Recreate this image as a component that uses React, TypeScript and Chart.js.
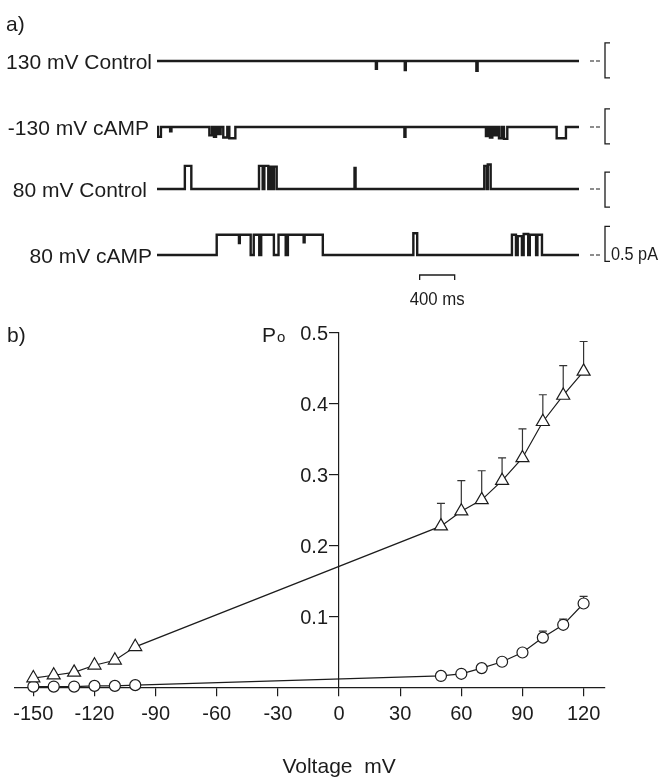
import React, { useEffect, useRef } from "react";
import { Chart, registerables } from "chart.js";

Chart.register(...registerables);

// ---------------- Panel a: single-channel traces ----------------
// each event: [start ms, end ms, current pA relative to closed level]
const traceLabels = ["130 mV Control", "-130 mV cAMP", "80 mV Control", "80 mV cAMP"];
const traceDurationMs = 4820;

const trace1Events = [
  [2500, 2512, -0.11],
  [2830, 2842, -0.13],
  [3648, 3662, -0.14],
];
const trace2Events = [
  [10, 45, -0.14],
  [150, 165, -0.06],
  [598, 628, -0.12],
  [651, 674, -0.14],
  [700, 727, -0.1],
  [757, 803, -0.15],
  [826, 895, -0.16],
  [2826, 2838, -0.14],
  [3757, 3784, -0.13],
  [3803, 3830, -0.15],
  [3852, 3879, -0.12],
  [3906, 3936, -0.16],
  [3963, 4001, -0.17],
  [4565, 4671, -0.16],
];
const trace3Events = [
  [318, 392, 0.33],
  [1165, 1207, 0.33],
  [1226, 1271, 0.33],
  [1291, 1317, 0.32],
  [1336, 1367, 0.32],
  [2256, 2268, 0.3],
  [3738, 3768, 0.33],
  [3778, 3811, 0.35],
];
const trace4Events = [
  [682, 936, 0.29],
  [936, 946, 0.17],
  [946, 1070, 0.29],
  [1105, 1168, 0.29],
  [1190, 1335, 0.29],
  [1388, 1470, 0.29],
  [1495, 1675, 0.29],
  [1675, 1686, 0.18],
  [1686, 1894, 0.29],
  [2928, 2972, 0.31],
  [4054, 4100, 0.29],
  [4120, 4168, 0.27],
  [4188, 4240, 0.3],
  [4258, 4330, 0.29],
  [4345, 4397, 0.29],
];
const allTraceEvents = [trace1Events, trace2Events, trace3Events, trace4Events];

const scaleBarStartMs = 3000;
const scaleBarMs = 400;
const scaleBarLabel = "400 ms";
const currentBarPA = 0.5;
const currentBarLabel = "0.5 pA";
const bracketLowPA = [-0.24, -0.24, -0.26, -0.09];

// ---------------- Panel b: open probability vs voltage ----------------
const voltages = [-150, -140, -130, -120, -110, -100, 50, 60, 70, 80, 90, 100, 110, 120];
const poCAMP = [0.014, 0.018, 0.022, 0.032, 0.039, 0.058, 0.228, 0.249, 0.265, 0.292, 0.324, 0.375, 0.412, 0.446];
const poCAMPErr = [0, 0, 0, 0, 0, 0, 0.032, 0.043, 0.041, 0.032, 0.041, 0.038, 0.042, 0.042];
const poControl = [0.002, 0.002, 0.002, 0.003, 0.003, 0.004, 0.017, 0.02, 0.028, 0.037, 0.05, 0.071, 0.089, 0.119];
const poControlErr = [0, 0, 0, 0, 0, 0, 0, 0, 0, 0, 0.002, 0.009, 0.008, 0.01];
const xTickValues = [-150, -120, -90, -60, -30, 0, 30, 60, 90, 120];
const yTickValues = [0.1, 0.2, 0.3, 0.4, 0.5];
const xAxisTitle = "Voltage  mV";

// ---------------- style / layout ----------------
const FONT = "'Liberation Sans', Arial, Helvetica, sans-serif";
const INK = "#1c1c1c";

const A_W = 660;
const A_H = 310;
const A_AREA = { left: 157, right: 579, top: 20, bottom: 300 };
const PX_PER_PA = 70;
const traceBaselinePx = [61, 127, 189, 255];
const traceLabelRight = [152, 149, 147, 152];

const B_W = 660;
const B_H = 470;
const Y_TICK_LEN = 9;
const Y_LABEL_GAP = 2;

function buildTrace(events: number[][], duration: number) {
  const pts: { x: number; y: number }[] = [{ x: 0, y: 0 }];
  events.forEach(([s, e, a], i) => {
    pts.push({ x: s, y: a });
    const next = events[i + 1];
    if (!next || next[0] > e) pts.push({ x: e, y: 0 });
  });
  pts.push({ x: duration, y: 0 });
  return pts;
}

const panelAPlugin = {
  id: "panelADecor",
  afterDraw(chart: any) {
    const ctx = chart.ctx as CanvasRenderingContext2D;
    const xs = chart.scales.x;
    ctx.save();
    ctx.fillStyle = INK;
    ctx.strokeStyle = INK;
    ctx.font = `21px ${FONT}`;
    ctx.textBaseline = "alphabetic";
    ctx.textAlign = "left";
    ctx.fillText("a)", 6, 31);

    traceLabels.forEach((lab, i) => {
      const ys = chart.scales["y" + (i + 1)];
      const y0 = ys.getPixelForValue(0);
      ctx.font = `21px ${FONT}`;
      ctx.textAlign = "right";
      ctx.fillText(lab, traceLabelRight[i], y0 + 7.5);
      // closed-level marker "--"
      ctx.lineWidth = 1.2;
      ctx.beginPath();
      ctx.moveTo(590, y0);
      ctx.lineTo(594, y0);
      ctx.moveTo(596, y0);
      ctx.lineTo(600, y0);
      ctx.stroke();
      // current bracket
      const yb = ys.getPixelForValue(bracketLowPA[i]);
      const yt = ys.getPixelForValue(bracketLowPA[i] + currentBarPA);
      ctx.lineWidth = 1.3;
      ctx.beginPath();
      ctx.moveTo(610, yt);
      ctx.lineTo(605, yt);
      ctx.lineTo(605, yb);
      ctx.lineTo(610, yb);
      ctx.stroke();
      if (i === 3) {
        ctx.font = `18px ${FONT}`;
        ctx.textAlign = "left";
        ctx.fillText(currentBarLabel, 611, yb - 1, 47);
      }
    });

    // time scale bar
    const x1 = xs.getPixelForValue(scaleBarStartMs);
    const x2 = xs.getPixelForValue(scaleBarStartMs + scaleBarMs);
    ctx.lineWidth = 1.3;
    ctx.beginPath();
    ctx.moveTo(x1, 280);
    ctx.lineTo(x1, 275);
    ctx.lineTo(x2, 275);
    ctx.lineTo(x2, 280);
    ctx.stroke();
    ctx.font = `18px ${FONT}`;
    ctx.textAlign = "center";
    ctx.fillText(scaleBarLabel, (x1 + x2) / 2, 305, 55);
    ctx.restore();
  },
};

const panelBPlugin = {
  id: "panelBDecor",
  beforeDatasetsDraw(chart: any) {
    const ctx = chart.ctx as CanvasRenderingContext2D;
    const xs = chart.scales.x;
    const ys = chart.scales.y;
    ctx.save();
    ctx.strokeStyle = "#333";
    ctx.lineWidth = 1.2;
    const draw = (vals: number[], errs: number[]) => {
      vals.forEach((v, i) => {
        if (!errs[i]) return;
        const x = xs.getPixelForValue(voltages[i]);
        const y = ys.getPixelForValue(v);
        const yc = ys.getPixelForValue(v + errs[i]);
        ctx.beginPath();
        ctx.moveTo(x, y);
        ctx.lineTo(x, yc);
        ctx.moveTo(x - 4, yc);
        ctx.lineTo(x + 4, yc);
        ctx.stroke();
      });
    };
    draw(poCAMP, poCAMPErr);
    draw(poControl, poControlErr);
    ctx.restore();
  },
  afterDraw(chart: any) {
    const ctx = chart.ctx as CanvasRenderingContext2D;
    const xs = chart.scales.x;
    const ys = chart.scales.y;
    ctx.save();
    ctx.fillStyle = INK;
    // y tick labels, placed left of the axis drawn at x = 0 mV
    const axisX = xs.getPixelForValue(0);
    ctx.font = `20px ${FONT}`;
    ctx.textAlign = "right";
    ctx.textBaseline = "middle";
    yTickValues.forEach((v) => {
      ctx.fillText(v.toFixed(1), axisX - Y_TICK_LEN - Y_LABEL_GAP, ys.getPixelForValue(v) + 1);
    });

    ctx.textBaseline = "alphabetic";
    ctx.font = `21px ${FONT}`;
    ctx.textAlign = "left";
    ctx.fillText("b)", 7, 32);
    ctx.fillText("P", 262, 32);
    const pw = ctx.measureText("P").width;
    ctx.font = `15px ${FONT}`;
    ctx.fillText("o", 262 + pw + 1, 32);
    ctx.font = `21px ${FONT}`;
    ctx.textAlign = "center";
    ctx.fillText(xAxisTitle, axisX, 463);
    ctx.restore();
  },
};

export default function App() {
  const refA = useRef<HTMLCanvasElement | null>(null);
  const refB = useRef<HTMLCanvasElement | null>(null);

  useEffect(() => {
    if (!refA.current || !refB.current) return;
    const range = (A_AREA.bottom - A_AREA.top) / PX_PER_PA;
    const yScales: any = {};
    traceBaselinePx.forEach((b, i) => {
      const max = (b - A_AREA.top) / PX_PER_PA;
      yScales["y" + (i + 1)] = { type: "linear", display: false, min: max - range, max };
    });

    const chartA = new Chart(refA.current, {
      type: "line",
      data: {
        datasets: allTraceEvents.map((ev, i) => ({
          data: buildTrace(ev, traceDurationMs),
          yAxisID: "y" + (i + 1),
          stepped: true,
          borderColor: INK,
          borderWidth: 2.4,
          pointRadius: 0,
          fill: false,
        })),
      },
      options: {
        responsive: false,
        animation: false,
        events: [],
        layout: {
          padding: {
            left: A_AREA.left,
            right: A_W - A_AREA.right,
            top: A_AREA.top,
            bottom: A_H - A_AREA.bottom,
          },
        },
        plugins: { legend: { display: false }, tooltip: { enabled: false } },
        scales: {
          x: { type: "linear", display: false, min: 0, max: traceDurationMs },
          ...yScales,
        },
      } as any,
      plugins: [panelAPlugin],
    });

    const tickFont = { family: FONT, size: 20 };
    const chartB = new Chart(refB.current, {
      type: "line",
      data: {
        datasets: [
          {
            data: voltages.map((v, i) => ({ x: v, y: poCAMP[i] })),
            borderColor: INK,
            borderWidth: 1.2,
            pointStyle: "triangle",
            pointRadius: 7.5,
            pointBackgroundColor: "#fff",
            pointBorderColor: INK,
            pointBorderWidth: 1.2,
            tension: 0,
          },
          {
            data: voltages.map((v, i) => ({ x: v, y: poControl[i] })),
            borderColor: INK,
            borderWidth: 1.2,
            pointStyle: "circle",
            pointRadius: 5.5,
            pointBackgroundColor: "#fff",
            pointBorderColor: INK,
            pointBorderWidth: 1.2,
            tension: 0,
          },
        ],
      },
      options: {
        responsive: false,
        animation: false,
        events: [],
        clip: false,
        layout: { padding: { left: 15, right: 55, top: 23, bottom: 92 } },
        plugins: { legend: { display: false }, tooltip: { enabled: false } },
        scales: {
          x: {
            type: "linear",
            min: -159,
            max: 130.5,
            position: { y: 0 },
            afterBuildTicks: (axis: any) => {
              axis.ticks = xTickValues.map((v) => ({ value: v }));
            },
            ticks: {
              autoSkip: false,
              maxRotation: 0,
              padding: 6,
              color: INK,
              font: tickFont,
              callback: (v: any) => String(v),
            },
            grid: { drawOnChartArea: false, drawTicks: true, tickLength: 8, color: INK, lineWidth: 1.2 },
            border: { display: true, color: INK, width: 1.2 },
          },
          y: {
            type: "linear",
            min: 0,
            max: 0.5,
            position: { x: 0 },
            afterBuildTicks: (axis: any) => {
              axis.ticks = yTickValues.map((v) => ({ value: v }));
            },
            ticks: { display: false, autoSkip: false },
            grid: { drawOnChartArea: false, drawTicks: true, tickLength: Y_TICK_LEN, color: INK, lineWidth: 1.2 },
            border: { display: true, color: INK, width: 1.2 },
          },
        },
      } as any,
      plugins: [panelBPlugin],
    });

    return () => {
      chartA.destroy();
      chartB.destroy();
    };
  }, []);

  return (
    <div style={{ position: "absolute", left: 0, top: 0, width: 660, height: 780, background: "#fff" }}>
      <canvas
        ref={refA}
        width={A_W}
        height={A_H}
        style={{ position: "absolute", left: 0, top: 0, width: A_W, height: A_H }}
      />
      <canvas
        ref={refB}
        width={B_W}
        height={B_H}
        style={{ position: "absolute", left: 0, top: A_H, width: B_W, height: B_H }}
      />
    </div>
  );
}
